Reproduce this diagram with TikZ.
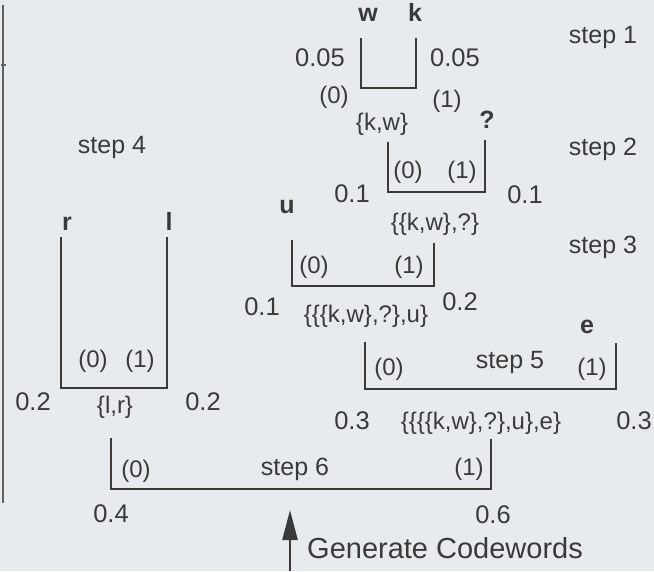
\documentclass[tikz,border=0pt]{standalone}
\usepackage{fontspec}
\setmainfont{Liberation Sans}
\usetikzlibrary{arrows.meta}
\definecolor{bg}{HTML}{E8EBEE}
\definecolor{ink}{HTML}{3A3A3A}
\begin{document}
\begin{tikzpicture}[x=1pt,y=-1pt,
  lbl/.style={anchor=base,inner sep=0pt,text=ink,font=\fontsize{24}{28}\selectfont},
  num/.style={anchor=base,inner sep=0pt,text=ink,font=\fontsize{25.5}{30}\selectfont},
  leaf/.style={anchor=base,inner sep=0pt,text=ink,font=\fontsize{25}{30}\selectfont\bfseries},
  steplbl/.style={anchor=base,inner sep=0pt,text=ink,font=\fontsize{25}{30}\selectfont},
  brk/.style={draw=ink,line width=1.8pt,line join=miter},
  arr/.style={draw=ink,line width=2.6pt,-{Triangle[length=30pt,width=15pt]}}]
\useasboundingbox[fill=bg] (0,0) rectangle (654,571);
% left edge frame line
\draw[draw=ink!80,line width=2.5pt] (3,5) -- (3,503);
\draw[draw=ink!80,line width=1.5pt] (1,65) -- (6,65);
% ---- step 1
\node[leaf] (w) at (368,21) {w};
\node[leaf] (k) at (415,21) {k};
\node[num] (p1a) at (320,66) {0.05};
\node[num] (p1b) at (455,66) {0.05};
\node[lbl] (c1a) at (334,103) {(0)};
\node[lbl] (c1b) at (447,107) {(1)};
\node[lbl] (s1) at (382,130) {\{k,w\}};
\node[steplbl] (st1) at (603,43) {step 1};
\coordinate (b1a) at (361,38); \coordinate (b1b) at (416,38);
\draw[brk] (b1a) |- (b1b |- 0,88) -- (b1b);
% ---- step 2
\node[leaf] (q) at (487,128) {?};
\node[steplbl] (st2) at (603,155) {step 2};
\node[lbl] (c2a) at (408,178) {(0)};
\node[lbl] (c2b) at (462,178) {(1)};
\node[num] (p2a) at (352,202) {0.1};
\node[num] (p2b) at (525,203) {0.1};
\node[lbl] (s2) at (435,230) {\{\{k,w\},?\}};
\coordinate (b2a) at (388,142); \coordinate (b2b) at (485,140);
\draw[brk] (b2a) |- (b2b |- 0,192) -- (b2b);
% ---- step 3
\node[leaf] (u) at (287,213) {u};
\node[steplbl] (st3) at (603,253) {step 3};
\node[lbl] (c3a) at (314,273) {(0)};
\node[lbl] (c3b) at (409,273) {(1)};
\node[num] (p3a) at (262,315) {0.1};
\node[lbl] (s3) at (366,322) {\{\{\{k,w\},?\},u\}};
\node[num] (p3b) at (460,310) {0.2};
\coordinate (b3a) at (292,240); \coordinate (b3b) at (434,243);
\draw[brk] (b3a) |- (b3b |- 0,286) -- (b3b);
% ---- step 5
\node[leaf] (e) at (587,333) {e};
\node[lbl] (c5a) at (389,375) {(0)};
\node[steplbl] (st5) at (510,368) {step 5};
\node[lbl] (c5b) at (592,375) {(1)};
\node[num] (p5a) at (352,429) {0.3};
\node[lbl] (s5) at (481,429) {\{\{\{\{k,w\},?\},u\},e\}};
\node[num] (p5b) at (634,429) {0.3};
\coordinate (b5a) at (365,342); \coordinate (b5b) at (616,343);
\draw[brk] (b5a) |- (b5b |- 0,389) -- (b5b);
% ---- step 4
\node[steplbl] (st4) at (112,153) {step 4};
\node[leaf] (r) at (67,230) {r};
\node[leaf] (l) at (169,230) {l};
\node[lbl] (c4a) at (93,367) {(0)};
\node[lbl] (c4b) at (140,367) {(1)};
\node[num] (p4a) at (33,410) {0.2};
\node[num] (p4b) at (203,410) {0.2};
\node[lbl] (s4) at (115,413) {\{l,r\}};
\coordinate (b4a) at (61,237); \coordinate (b4b) at (167,237);
\draw[brk] (b4a) |- (b4b |- 0,388) -- (b4b);
% ---- step 6
\node[lbl] (c6a) at (136,477) {(0)};
\node[steplbl] (st6) at (295,475) {step 6};
\node[lbl] (c6b) at (469,475) {(1)};
\node[num] (p6a) at (111,522) {0.4};
\node[num] (p6b) at (493,523) {0.6};
\coordinate (b6a) at (111,438); \coordinate (b6b) at (491,439);
\draw[brk] (b6a) |- (b6b |- 0,489) -- (b6b);
% ---- generate arrow
\node[lbl,anchor=base west,font=\fontsize{29}{33}\selectfont] (gen) at (307,558) {Generate Codewords};
\coordinate (arrS) at (290,571); \coordinate (arrT) at (290,510);
\draw[arr] (arrS) -- (arrT);
\end{tikzpicture}
\end{document}
